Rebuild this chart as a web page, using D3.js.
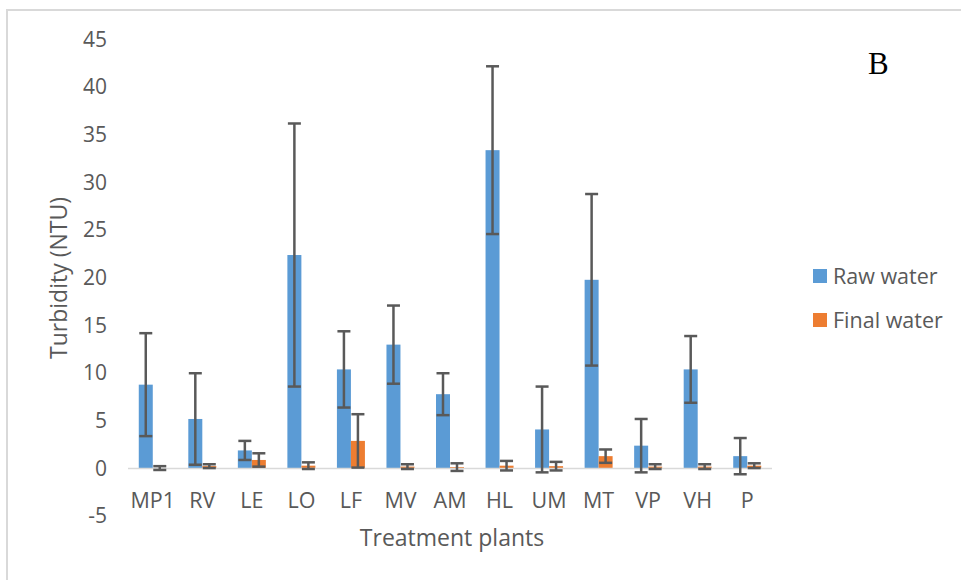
<!DOCTYPE html>
<html>
<head>
<meta charset="utf-8">
<script src="https://cdn.jsdelivr.net/npm/d3@7"></script>
<style>
  body { margin: 0; background: #fff; }
  svg text { font-family: "Open Sans", sans-serif; fill: #595959; }
</style>
</head>
<body>
<svg width="961" height="580"></svg>
<script>
const categories = ["MP1", "RV", "LE", "LO", "LF", "MV", "AM", "HL", "UM", "MT", "VP", "VH", "P"]
const rawWater = [8.8, 5.2, 1.9, 22.4, 10.4, 13.0, 7.8, 33.4, 4.1, 19.8, 2.4, 10.4, 1.3]
const rawErr = [5.4, 4.8, 1.0, 13.8, 4.0, 4.1, 2.2, 8.8, 4.5, 9.0, 2.8, 3.5, 1.9]
const finalWater = [0.05, 0.25, 0.9, 0.3, 2.9, 0.2, 0.15, 0.3, 0.25, 1.3, 0.2, 0.2, 0.3]
const finalErr = [0.2, 0.2, 0.7, 0.35, 2.8, 0.25, 0.4, 0.5, 0.45, 0.7, 0.25, 0.25, 0.25]
const yTicks = [-5, 0, 5, 10, 15, 20, 25, 30, 35, 40, 45]

const series = [
    { name: "Raw water", values: rawWater, err: rawErr, color: "#5b9bd5", side: -1 },
    { name: "Final water", values: finalWater, err: finalErr, color: "#ed7d31", side: 0 }
]

const svg = d3.select('svg')
const barW = 14
const capW = 13

// frame of the pasted figure
svg.append('path')
    .attr('d', 'M7,580 L7,10 L961,10')
    .attr('fill', 'none')
    .attr('stroke', '#d9d9d9')
    .attr('stroke-width', 2)

const x = d3.scaleBand()
    .domain(categories)
    .range([128, 772])

const y = d3.scaleLinear()
    .domain([-5, 45])
    .range([516.2, 39.6])

// y tick labels (no axis line, no gridlines)
const yAxis = svg.append('g')
    .attr('transform', 'translate(107,0)')
    .call(d3.axisLeft(y).tickValues(yTicks).tickSize(0).tickPadding(0).tickFormat(d => String(d)))
yAxis.select('.domain').remove()
yAxis.selectAll('text')
    .attr('font-size', 21)
    .attr('font-family', '"Open Sans", sans-serif')
    .attr('fill', '#595959')

// bars
series.forEach(s => {
    svg.append('g')
        .selectAll('rect')
        .data(categories)
        .enter().append('rect')
        .attr('x', d => x(d) + x.bandwidth() / 2 + s.side * barW)
        .attr('width', barW)
        .attr('y', (d, i) => y(Math.max(0, s.values[i])))
        .attr('height', (d, i) => Math.abs(y(s.values[i]) - y(0)))
        .attr('fill', s.color)
})

// category axis line
svg.append('line')
    .attr('x1', 128).attr('x2', 772)
    .attr('y1', y(0)).attr('y2', y(0))
    .attr('stroke', '#d9d9d9')
    .attr('stroke-width', 1.5)

// error bars
series.forEach(s => {
    const g = svg.append('g')
        .selectAll('g')
        .data(categories)
        .enter().append('g')
        .attr('stroke', '#595959')
        .attr('stroke-width', 2.5)
    const cx = d => x(d) + x.bandwidth() / 2 + s.side * barW + barW / 2
    g.append('line')
        .attr('x1', cx).attr('x2', cx)
        .attr('y1', (d, i) => y(s.values[i] + s.err[i]))
        .attr('y2', (d, i) => y(s.values[i] - s.err[i]))
    g.append('line')
        .attr('x1', d => cx(d) - capW / 2).attr('x2', d => cx(d) + capW / 2)
        .attr('y1', (d, i) => y(s.values[i] + s.err[i]))
        .attr('y2', (d, i) => y(s.values[i] + s.err[i]))
    g.append('line')
        .attr('x1', d => cx(d) - capW / 2).attr('x2', d => cx(d) + capW / 2)
        .attr('y1', (d, i) => y(s.values[i] - s.err[i]))
        .attr('y2', (d, i) => y(s.values[i] - s.err[i]))
})

// category labels
svg.append('g')
    .selectAll('text')
    .data(categories)
    .enter().append('text')
    .attr('x', d => x(d) + x.bandwidth() / 2)
    .attr('y', 508)
    .attr('text-anchor', 'middle')
    .attr('font-size', 21.5)
    .text(d => d)

// axis titles
svg.append('text')
    .attr('x', 452)
    .attr('y', 546)
    .attr('text-anchor', 'middle')
    .attr('font-size', 23)
    .text('Treatment plants')

svg.append('text')
    .attr('transform', 'translate(67,278) rotate(-90)')
    .attr('text-anchor', 'middle')
    .attr('font-size', 23)
    .text('Turbidity (NTU)')

// legend
const legend = svg.append('g')
    .selectAll('g')
    .data(series)
    .enter().append('g')
    .attr('transform', (d, i) => `translate(813,${269 + i * 44})`)
legend.append('rect')
    .attr('width', 14).attr('height', 14)
    .attr('fill', d => d.color)
legend.append('text')
    .attr('x', 20)
    .attr('y', 14.5)
    .attr('font-size', 21.5)
    .text(d => d.name)

// panel letter
svg.append('text')
    .attr('x', 868)
    .attr('y', 74)
    .attr('font-size', 31)
    .style('font-family', '"Liberation Serif", "DejaVu Serif", serif')
    .style('fill', '#000')
    .text('B')
</script>
</body>
</html>
